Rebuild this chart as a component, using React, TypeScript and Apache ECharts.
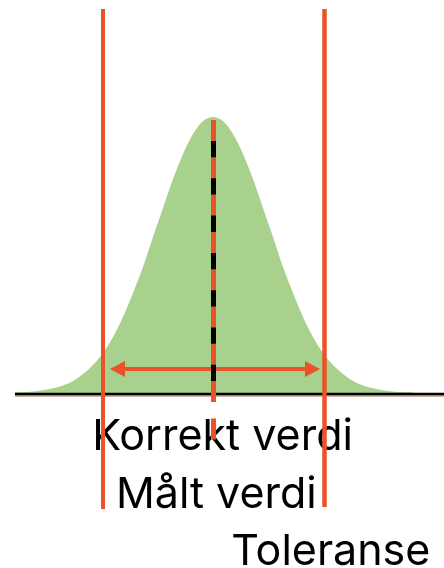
import React, { useEffect, useRef } from "react";
import * as echarts from "echarts";

// Bell curve (measured values), x in px-like units, height above baseline
const curveX = [15, 23, 33, 43, 53, 63, 73, 83, 93, 103, 113, 123, 133, 143, 153, 163, 173, 183, 193, 203, 213,
  223, 233, 243, 253, 263, 273, 283, 293, 303, 313, 323, 333, 343, 353, 363, 373, 383, 393, 403, 413];
const curveY = [0.5, 0.9, 1.6, 2.8, 4.7, 7.6, 12, 19, 28, 40, 56, 76, 100, 126, 156, 185, 214, 239, 259, 272, 276,
  272, 259, 239, 214, 185, 156, 126, 100, 76, 56, 40, 28, 19, 12, 7.6, 4.7, 2.8, 1.6, 0.9, 0.5];

const correctValue = 213.5; // Korrekt verdi / Målt verdi
const centerTop = 273;
const centerDashEnd = -47;
const toleranceLow = 103;
const toleranceHigh = 324.5;
const toleranceTop = 384;
const toleranceBottom = -116;
const arrowY = 24;
const arrowFrom = 117.5;
const arrowTo = 312.5;
const baselineStart = 15;
const baselineEnd = 444;

const labels = ["Korrekt verdi", "Målt verdi", "Toleranse"];

const RED = "#EA5229";
const GREEN = "#A9D18E";

export default function App() {
  const ref = useRef<HTMLDivElement>(null);
  useEffect(() => {
    if (!ref.current) return;
    const chart = echarts.init(ref.current, undefined, { renderer: "svg" });
    const font = { fontFamily: "Inter", fontSize: 43, lineHeight: 34, fill: "#000" };
    chart.setOption({
      animation: false,
      grid: { left: 0, right: 0, top: 0, bottom: 0 },
      xAxis: { type: "value", min: 0, max: 444, show: false },
      yAxis: { type: "value", min: -175, max: 393, show: false },
      graphic: [
        { type: "text", x: 222.5, y: 433.6, style: { ...font, text: labels[0], textAlign: "center", textVerticalAlign: "middle" } },
        { type: "text", x: 216.3, y: 491.7, style: { ...font, text: labels[1], textAlign: "center", textVerticalAlign: "middle" } },
        { type: "text", x: 330.8, y: 549.4, style: { ...font, text: labels[2], textAlign: "center", textVerticalAlign: "middle" } },
      ],
      series: [
        {
          type: "line",
          data: curveX.map((x, i) => [x, curveY[i]]),
          symbol: "none",
          smooth: 0.3,
          lineStyle: { width: 0 },
          areaStyle: { color: GREEN, opacity: 1 },
          z: 1,
          silent: true,
        },
        {
          type: "line",
          data: [[baselineStart, -1], [baselineEnd, -1]],
          symbol: "none",
          lineStyle: { color: "#000", width: 2.7 },
          z: 2,
          silent: true,
        },
        {
          type: "line",
          data: [[baselineStart, -2.9], [baselineEnd, -2.9]],
          symbol: "none",
          lineStyle: { color: "#A0604A", width: 1.2 },
          z: 2,
          silent: true,
        },
        {
          type: "line",
          data: [],
          z: 3,
          silent: true,
          markLine: {
            silent: true,
            animation: false,
            symbol: ["triangle", "triangle"],
            symbolSize: [16, 15],
            label: { show: false },
            lineStyle: { color: RED, width: 3.8, type: "solid" },
            itemStyle: { color: RED },
            data: [[{ coord: [arrowFrom, arrowY] }, { coord: [arrowTo, arrowY] }]],
          },
        },
        {
          type: "line",
          data: [[toleranceLow, toleranceTop], [toleranceLow, toleranceBottom]],
          symbol: "none",
          lineStyle: { color: RED, width: 4, cap: "butt" },
          z: 5,
          silent: true,
        },
        {
          type: "line",
          data: [[toleranceHigh, toleranceTop], [toleranceHigh, toleranceBottom + 2]],
          symbol: "none",
          lineStyle: { color: RED, width: 4.5, cap: "butt" },
          z: 5,
          silent: true,
        },
        {
          type: "line",
          data: [[correctValue, centerTop], [correctValue, -1]],
          symbol: "none",
          lineStyle: { color: "#000", width: 5, cap: "butt" },
          z: 6,
          silent: true,
        },
        {
          type: "line",
          data: [[correctValue, centerTop], [correctValue, centerDashEnd]],
          symbol: "none",
          lineStyle: { color: RED, width: 5, type: [21, 16.3], cap: "butt" },
          z: 7,
          silent: true,
        },
      ],
    });
    return () => chart.dispose();
  }, []);
  return <div ref={ref} style={{ position: "fixed", left: 0, top: 0, width: 444, height: 568 }} />;
}
